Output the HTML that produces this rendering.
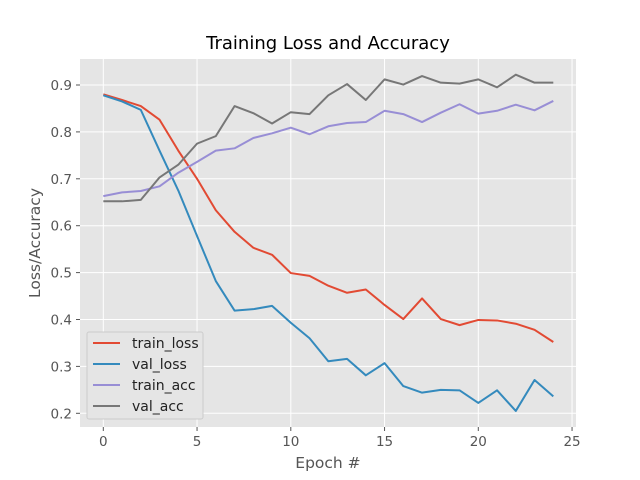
<!DOCTYPE html><html><head><style>body{margin:0;background:#fff}svg{display:block;font-family:"DejaVu Sans","Liberation Sans",sans-serif}</style></head><body>
<svg id="s" width="640" height="480" xmlns="http://www.w3.org/2000/svg">
<rect x="80" y="59" width="496" height="368" fill="#e5e5e5"/>
<g id="grid" stroke="#fff" stroke-width="1"></g>
<g id="lines" fill="none" stroke-width="2" stroke-linejoin="round"></g>
<g id="ticks" font-size="13.5" fill="#555"></g>
<text x="328" y="49" font-size="18" text-anchor="middle" fill="#000">Training Loss and Accuracy</text>
<text x="328" y="468" font-size="15.5" text-anchor="middle" fill="#555">Epoch #</text>
<text transform="translate(40,243) rotate(-90)" font-size="15.5" text-anchor="middle" fill="#555">Loss/Accuracy</text>
<rect x="87" y="332" width="116" height="87" fill="#e5e5e5" stroke="#ccc" stroke-width="1" rx="2"/>
<g font-size="14" fill="#222">
<line x1="93" x2="120" y1="343" y2="343" stroke="#E24A33" stroke-width="2"/><text x="132" y="348">train_loss</text>
<line x1="93" x2="120" y1="364" y2="364" stroke="#348ABD" stroke-width="2"/><text x="132" y="369">val_loss</text>
<line x1="93" x2="120" y1="385" y2="385" stroke="#988ED5" stroke-width="2"/><text x="132" y="390">train_acc</text>
<line x1="93" x2="120" y1="406" y2="406" stroke="#777777" stroke-width="2"/><text x="132" y="411">val_acc</text>
</g>
</svg>
<script>
const NS="http://www.w3.org/2000/svg";
const X=i=>103.3+18.75*i, Y=v=>85+(0.9-v)*469;
function el(p,t,a,txt){const e=document.createElementNS(NS,t);for(const k in a)e.setAttribute(k,a[k]);if(txt!==undefined)e.textContent=txt;document.getElementById(p).appendChild(e);}
for(let i=0;i<=25;i+=5){el("grid","line",{x1:X(i),x2:X(i),y1:59,y2:427});el("ticks","line",{x1:X(i),x2:X(i),y1:427,y2:431,stroke:"#555"});el("ticks","text",{x:X(i),y:446,"text-anchor":"middle"},String(i));}
for(let k=2;k<=9;k++){const v=k/10;el("grid","line",{x1:80,x2:576,y1:Y(v),y2:Y(v)});el("ticks","line",{x1:76,x2:80,y1:Y(v),y2:Y(v),stroke:"#555"});el("ticks","text",{x:72,y:Y(v)+5,"text-anchor":"end"},v.toFixed(1));}
const D=[["#E24A33",[0.88,0.868,0.855,0.826,0.76,0.70,0.633,0.587,0.553,0.538,0.499,0.493,0.472,0.457,0.464,0.431,0.401,0.445,0.401,0.388,0.399,0.398,0.391,0.378,0.352]],
["#348ABD",[0.878,0.865,0.847,0.76,0.675,0.578,0.482,0.419,0.422,0.429,0.393,0.36,0.311,0.316,0.281,0.307,0.258,0.244,0.25,0.249,0.222,0.249,0.205,0.271,0.236]],
["#988ED5",[0.663,0.671,0.674,0.684,0.713,0.736,0.760,0.765,0.787,0.797,0.809,0.795,0.812,0.819,0.821,0.845,0.838,0.821,0.841,0.859,0.839,0.845,0.858,0.846,0.866]],
["#777777",[0.652,0.652,0.655,0.703,0.730,0.775,0.791,0.855,0.840,0.818,0.842,0.838,0.878,0.902,0.868,0.912,0.901,0.919,0.905,0.903,0.912,0.895,0.922,0.905,0.905]]];
for(const [c,d] of D)el("lines","polyline",{stroke:c,points:d.map((v,i)=>X(i)+","+Y(v)).join(" ")});
</script>
</body></html>
